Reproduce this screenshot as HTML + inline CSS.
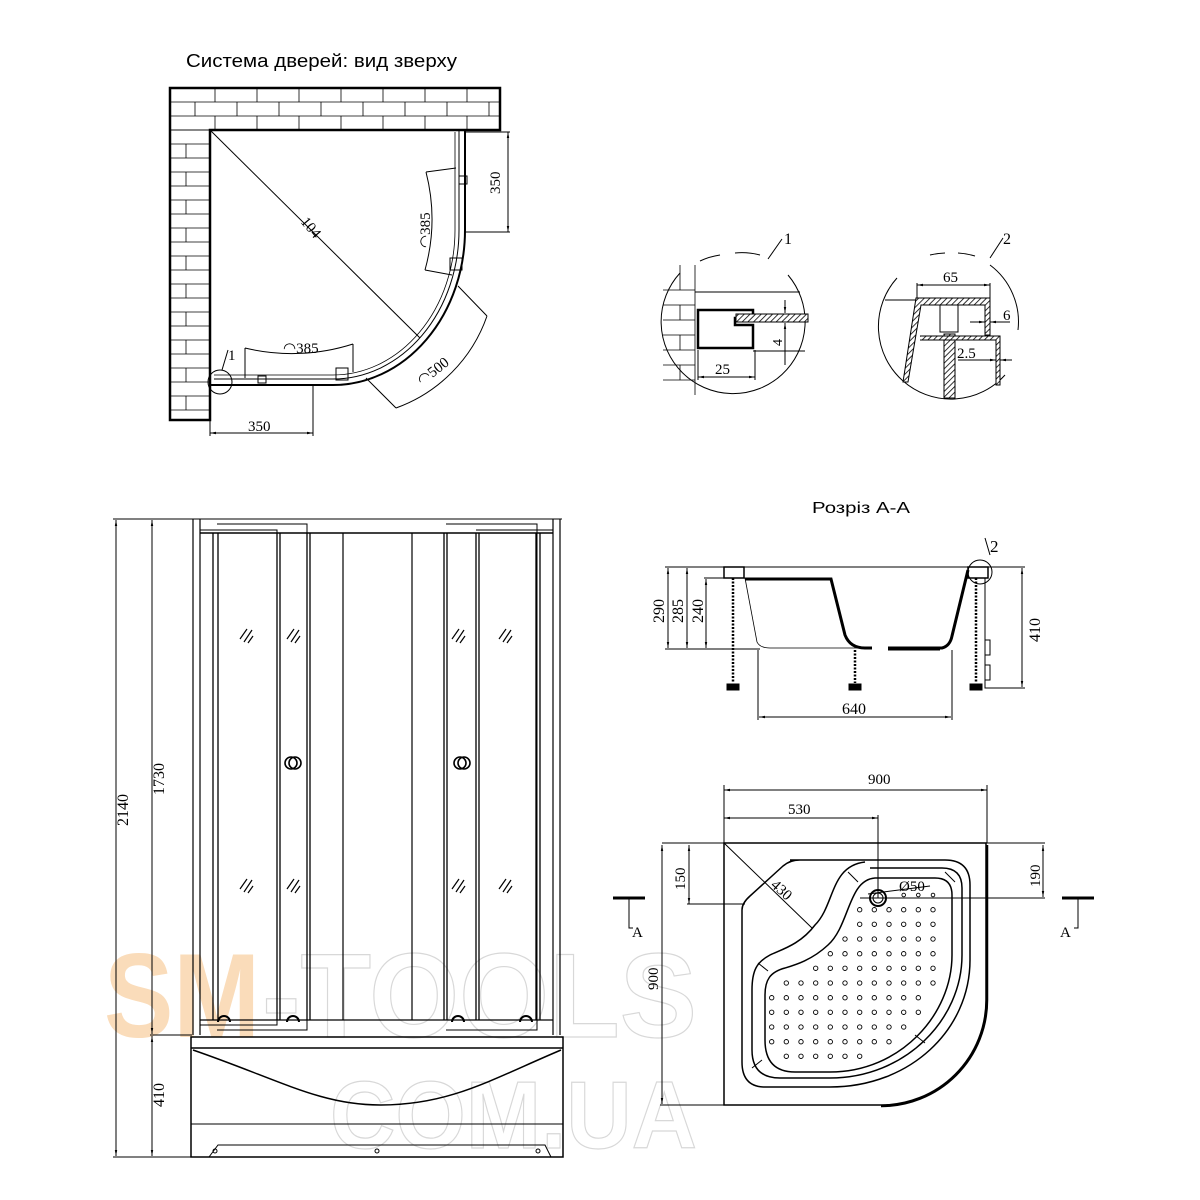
<!DOCTYPE html>
<html><head><meta charset="utf-8"><style>
html,body{margin:0;padding:0;background:#fff;}
svg{display:block}
text{font-family:"Liberation Serif",serif;fill:#000}
.s{font-family:"Liberation Sans",sans-serif}
</style></head><body>
<svg id="d" width="1200" height="1200" viewBox="0 0 1200 1200" xmlns="http://www.w3.org/2000/svg">
<defs>
<pattern id="h" width="4" height="4" patternUnits="userSpaceOnUse" patternTransform="rotate(45)"><rect width="4" height="4" fill="#fff"/><line x1="0" y1="0" x2="0" y2="4" stroke="#000" stroke-width="1.6"/></pattern>
<marker id="a" viewBox="0 0 10 10" refX="10" refY="5" markerWidth="6" markerHeight="6" orient="auto-start-reverse"><path d="M0,3 L10,5 L0,7z" fill="#000"/></marker>
</defs>

<!-- watermark -->
<text x="104" y="1037" font-size="120" font-weight="bold" textLength="156" lengthAdjust="spacingAndGlyphs" style="fill:#fadcba;font-family:'Liberation Sans',sans-serif">SM</text>
<text x="262" y="1037" font-size="120" font-weight="bold" textLength="435" lengthAdjust="spacingAndGlyphs" style="fill:none;stroke:#d8d8d8;stroke-width:1.2;font-family:'Liberation Sans',sans-serif">-TOOLS</text>
<text x="330" y="1148" font-size="96" font-weight="bold" textLength="367" lengthAdjust="spacingAndGlyphs" style="fill:none;stroke:#d8d8d8;stroke-width:1.2;font-family:'Liberation Sans',sans-serif">COM.UA</text>

<text class="s" x="186" y="67" font-size="18" textLength="271" lengthAdjust="spacingAndGlyphs">Система дверей: вид зверху</text>
<text class="s" x="812" y="513" font-size="16" textLength="98" lengthAdjust="spacingAndGlyphs">Розріз А-А</text>

<g fill="none" stroke="#000" stroke-width="1">
<g id="bricks"></g>
<path d="M170,420 V88 H500 V130 H210 V420 Z" stroke-width="2.5"/>
<path d="M465,130 V230 A132,155 0 0 1 333,385 H210" stroke-width="2"/>
<path d="M459,130 V230 A126,149 0 0 1 333,379 H214" stroke-width="1"/>
<path d="M455,132 V230 A122,145 0 0 1 333,375 H214" stroke-width="0.8"/>
<line x1="210" y1="130" x2="420" y2="338"/>
<line x1="465" y1="132" x2="510" y2="132"/><line x1="465" y1="232" x2="510" y2="232"/>
<line x1="508" y1="132" x2="508" y2="232" marker-start="url(#a)" marker-end="url(#a)"/>
<line x1="210" y1="390" x2="210" y2="436"/><line x1="313" y1="385" x2="313" y2="436"/>
<line x1="210" y1="433" x2="313" y2="433" marker-start="url(#a)" marker-end="url(#a)"/>
<path d="M458,286 L487,316 M366,378 L396,408 M487,316 A150,150 0 0 1 396,408"/>
<path d="M426,172 L456,168 M425,270 L452,275 M426,172 A190,190 0 0 1 425,270"/>
<path d="M245,348 L245,378 M353,344 L353,372 M245,348 A200,200 0 0 0 353,344"/>
<rect x="459" y="176" width="8" height="8"/><rect x="450" y="258" width="12" height="12"/><rect x="336" y="368" width="12" height="12"/><rect x="258" y="376" width="8" height="7"/>
<circle cx="220" cy="382" r="12"/><path d="M222,370 L228,350"/>
</g>
<text x="500" y="194" font-size="15" transform="rotate(-90 500 194)">350</text>
<text x="248" y="431" font-size="15">350</text>
<text x="300" y="222" font-size="15" transform="rotate(50 300 222)">104</text>
<text x="283" y="353" font-size="15">◠385</text>
<text x="430" y="248" font-size="15" transform="rotate(-90 430 248)">◠385</text>
<text x="422" y="386" font-size="15" transform="rotate(-38 422 386)">◠500</text>
<text x="228" y="360" font-size="15">1</text>

<!-- DETAIL 1 -->
<g fill="none" stroke="#000" stroke-width="1">
<path d="M680,273 A72,72 0 1 0 788,275" />
<path d="M700,261 A72,72 0 0 1 720,255 M735,253 A72,72 0 0 1 760,255"/>
<path d="M768,259 L782,239"/>
<path d="M695,265 V395 M663,290 H695 M663,305 H695 M663,320 H695 M663,335 H695 M663,350 H695 M663,365 H695 M663,380 H695 M680,265 V290 M680,305 V320 M680,335 V350 M680,365 V380" stroke-width="0.8"/>
<line x1="695" y1="292" x2="800" y2="292"/>
<path d="M698,310 H753 V318 H735 V325 H753 V348 H698 Z" stroke-width="2.5"/>
<rect x="736" y="314" width="72" height="8" fill="url(#h)"/>
<line x1="755" y1="350" x2="755" y2="380"/><line x1="698" y1="350" x2="698" y2="380"/>
<line x1="698" y1="377" x2="755" y2="377" marker-start="url(#a)" marker-end="url(#a)"/>
<line x1="753" y1="351" x2="805" y2="351"/>
<line x1="785" y1="300" x2="785" y2="313" marker-end="url(#a)"/><line x1="785" y1="365" x2="785" y2="323" marker-end="url(#a)"/>
</g>
<text x="784" y="244" font-size="16">1</text>
<text x="715" y="374" font-size="15">25</text>
<text x="782" y="346" font-size="14" transform="rotate(-90 782 346)">4</text>

<!-- DETAIL 2 -->
<g fill="none" stroke="#000" stroke-width="1">
<path d="M897,278 A71,71 0 0 0 1005,375 M1018,330 A71,71 0 0 0 990,265"/>
<path d="M930,255 A71,71 0 0 1 945,253 M958,253 A71,71 0 0 1 975,256"/>
<path d="M990,258 L1003,238"/>
<line x1="917" y1="285" x2="990" y2="285" marker-start="url(#a)" marker-end="url(#a)"/>
<line x1="917" y1="283" x2="917" y2="300"/><line x1="990" y1="283" x2="990" y2="300"/>
<line x1="885" y1="300" x2="917" y2="300"/>
<path d="M916,298 H990 V335 H985 V305 H921 L908,382 H903 Z" fill="url(#h)"/>
<rect x="940" y="305" width="18" height="27"/>
<rect x="944" y="334" width="11" height="64" fill="url(#h)"/>
<path d="M920,336 H1000 V385 H996 V340 H920" fill="url(#h)"/>
<line x1="970" y1="322" x2="985" y2="322" marker-end="url(#a)"/><line x1="1010" y1="322" x2="990" y2="322" marker-end="url(#a)"/>
<line x1="958" y1="360" x2="996" y2="360" marker-end="url(#a)"/><line x1="1012" y1="360" x2="1000" y2="360" marker-end="url(#a)"/>
</g>
<text x="1003" y="244" font-size="16">2</text>
<text x="943" y="282" font-size="15">65</text>
<text x="1003" y="320" font-size="15">6</text>
<text x="957" y="358" font-size="15">2.5</text>

<!-- FRONT VIEW -->
<g fill="none" stroke="#000" stroke-width="1">
<line x1="113" y1="519" x2="562" y2="519"/>
<line x1="113" y1="1157" x2="563" y2="1157"/>
<line x1="150" y1="1035" x2="192" y2="1035"/>
<line x1="116" y1="520" x2="116" y2="1156" marker-start="url(#a)" marker-end="url(#a)"/>
<line x1="152" y1="520" x2="152" y2="1034" marker-start="url(#a)" marker-end="url(#a)"/>
<line x1="152" y1="1036" x2="152" y2="1156" marker-start="url(#a)" marker-end="url(#a)"/>
<path d="M193,519 V1035 M200,519 V1035 M553,519 V1035 M560,519 V1035" stroke-width="1.2"/>
<line x1="200" y1="533" x2="553" y2="533" stroke-width="1.4"/>
<line x1="200" y1="1020" x2="553" y2="1020" stroke-width="1.2"/>
<path d="M200,530 H277 V1025 H200"/>
<path d="M217,524 H307 V1030 H217"/>
<path d="M213,533 V1020 M218,533 V1020 M277,533 V1020 M280,533 V1020 M307,533 V1020 M310,533 V1020" stroke-width="1.3"/>
<path d="M343,533 V1020 M412,533 V1020" stroke-width="1.2"/>
<path d="M446,524 H537 V1030 H446"/>
<path d="M476,530 H553 V1025"/>
<path d="M444,533 V1020 M447,533 V1020 M476,533 V1020 M479,533 V1020 M536,533 V1020 M540,533 V1020" stroke-width="1.3"/>
<rect x="191" y="1037" width="372" height="120" stroke-width="1.5"/>
<line x1="191" y1="1048" x2="563" y2="1048" stroke-width="1.5"/>
<path d="M193,1050 C280,1080 320,1105 380,1105 C450,1105 490,1080 561,1050" stroke-width="1.5"/>
<line x1="191" y1="1124" x2="563" y2="1124"/>
<path d="M209,1157 L218,1145 H545 L551,1157"/>
<circle cx="215" cy="1151" r="2"/><circle cx="377" cy="1151" r="2"/><circle cx="538" cy="1151" r="2"/>
<circle cx="291" cy="763" r="6" stroke-width="1.6"/><circle cx="295" cy="763" r="6" stroke-width="1.6"/>
<circle cx="460" cy="763" r="6" stroke-width="1.6"/><circle cx="464" cy="763" r="6" stroke-width="1.6"/>
<path d="M218,1022 a6,6 0 0 1 12,0 M287,1022 a6,6 0 0 1 12,0 M452,1022 a6,6 0 0 1 12,0 M520,1022 a6,6 0 0 1 12,0" stroke-width="2"/>
</g>
<g id="gl" stroke="#000" stroke-width="1.2"></g>
<text x="128" y="826" font-size="16" transform="rotate(-90 128 826)">2140</text>
<text x="164" y="795" font-size="16" transform="rotate(-90 164 795)">1730</text>
<text x="164" y="1107" font-size="16" transform="rotate(-90 164 1107)">410</text>

<!-- SECTION A-A -->
<g fill="none" stroke="#000" stroke-width="1">
<line x1="665" y1="567" x2="1025" y2="567"/>
<line x1="665" y1="649" x2="760" y2="649"/>
<line x1="704" y1="578" x2="745" y2="578"/>
<line x1="668" y1="568" x2="668" y2="648" marker-start="url(#a)" marker-end="url(#a)"/>
<line x1="687" y1="568" x2="687" y2="648" marker-start="url(#a)" marker-end="url(#a)"/>
<line x1="706" y1="579" x2="706" y2="648" marker-start="url(#a)" marker-end="url(#a)"/>
<rect x="724" y="567" width="20" height="11" stroke-width="1.5"/>
<path d="M745,578 L757,642 Q760,648 770,648 H870" stroke-width="0.8"/>
<path d="M745,579 H831 L845,635 Q850,648 865,648 H872" stroke-width="3"/>
<path d="M888,648 H942 Q950,646 952,636 L968,570" stroke-width="3"/>
<path d="M888,650 H940" stroke-width="1"/>
<rect x="968" y="567" width="20" height="11" stroke-width="1.5"/>
<circle cx="980" cy="572" r="12"/>
<path d="M985,538 L990,555"/>
<path d="M985,578 V688 H1025 M985,640 H990 V655 H985 M985,665 H990 V680 H985"/>
<line x1="1022" y1="568" x2="1022" y2="687" marker-start="url(#a)" marker-end="url(#a)"/>
<line x1="758" y1="650" x2="758" y2="720"/><line x1="952" y1="650" x2="952" y2="720"/>
<line x1="759" y1="717" x2="951" y2="717" marker-start="url(#a)" marker-end="url(#a)"/>
<g stroke-width="2.5" stroke-dasharray="2 1.5"><line x1="733" y1="578" x2="733" y2="683"/><line x1="976" y1="578" x2="976" y2="683"/><line x1="855" y1="650" x2="855" y2="683"/></g>
<path d="M727,690 V684 H739 V690 Z M849,690 V684 H861 V690 Z M970,690 V684 H982 V690 Z" fill="#000"/>
</g>
<text x="990" y="552" font-size="17">2</text>
<text x="664" y="623" font-size="16" transform="rotate(-90 664 623)">290</text>
<text x="683" y="623" font-size="16" transform="rotate(-90 683 623)">285</text>
<text x="703" y="623" font-size="16" transform="rotate(-90 703 623)">240</text>
<text x="1040" y="642" font-size="16" transform="rotate(-90 1040 642)">410</text>
<text x="842" y="714" font-size="16">640</text>

<!-- TRAY TOP -->
<g fill="none" stroke="#000" stroke-width="1">
<line x1="724" y1="790" x2="987" y2="790" marker-start="url(#a)" marker-end="url(#a)"/>
<line x1="724" y1="818" x2="878" y2="818" marker-start="url(#a)" marker-end="url(#a)"/>
<line x1="724" y1="785" x2="724" y2="843"/><line x1="987" y1="785" x2="987" y2="843"/>
<line x1="878" y1="815" x2="878" y2="898"/>
<line x1="662" y1="843" x2="1045" y2="843"/>
<line x1="662" y1="845" x2="662" y2="1104" marker-start="url(#a)" marker-end="url(#a)"/>
<line x1="660" y1="1105" x2="724" y2="1105"/>
<line x1="689" y1="845" x2="689" y2="904" marker-start="url(#a)" marker-end="url(#a)"/>
<line x1="687" y1="904" x2="745" y2="904"/>
<line x1="1043" y1="845" x2="1043" y2="897" marker-start="url(#a)" marker-end="url(#a)"/>
<line x1="860" y1="898" x2="1045" y2="898"/>
<line x1="724" y1="843" x2="812" y2="928"/>
<line x1="868" y1="894" x2="930" y2="886"/>
<path d="M724,843 H986 V1000 A105,105 0 0 1 881,1105 H724 Z" stroke-width="1.5"/>
<path d="M987,845 V1000 A106,106 0 0 1 881,1106" stroke-width="2.5"/>
<path d="M790,860 H945 Q970,860 970,885 V960 C970,1030 910,1087 830,1087 H765 Q742,1087 742,1062 V910 Q742,903 750,896 L783,866 Q790,860 800,860 Z" stroke-width="1.5"/>
<path d="M865,862 C830,866 835,905 815,925 C800,945 780,950 770,955 C757,962 752,970 752,990 V1050 Q752,1078 780,1078 H830 C905,1078 962,1020 962,955 V888 Q962,868 942,868 H870" stroke-width="1.5"/>
<path d="M875,878 C848,880 850,925 828,945 C812,960 795,965 785,968 C770,972 765,980 765,995 V1040 Q765,1072 795,1072 H830 C900,1072 952,1015 952,955 V895 Q952,878 935,878 Z" stroke-width="1.5"/>
<path d="M848,872 L858,882 M945,872 L955,882 M758,963 L768,971 M752,1068 L762,1060 M915,1035 L925,1043"/>
<circle cx="878" cy="898" r="8" stroke-width="2"/><circle cx="878" cy="898" r="5"/>
</g>
<g id="dots" fill="none" stroke="#000" stroke-width="0.9"></g>
<text x="868" y="784" font-size="15">900</text>
<text x="788" y="814" font-size="15">530</text>
<text x="685" y="890" font-size="15" transform="rotate(-90 685 890)">150</text>
<text x="1040" y="887" font-size="15" transform="rotate(-90 1040 887)">190</text>
<text x="658" y="990" font-size="15" transform="rotate(-90 658 990)">900</text>
<text x="770" y="886" font-size="15" transform="rotate(42 770 886)">430</text>
<text x="899" y="891" font-size="15">Ø50</text>
<path d="M613,898 H645" stroke="#000" stroke-width="3"/><path d="M629,898 V928 H633" fill="none" stroke="#000"/>
<text x="632" y="937" font-size="15">A</text>
<path d="M1062,898 H1094" stroke="#000" stroke-width="3"/><path d="M1078,898 V928 H1074" fill="none" stroke="#000"/>
<text x="1060" y="937" font-size="15">A</text>
</svg>
<script>
var NS="http://www.w3.org/2000/svg";
function el(p,t,a){var e=document.createElementNS(NS,t);for(var k in a)e.setAttribute(k,a[k]);p.appendChild(e);}
var b=document.getElementById("bricks");
var ys=[88,102,116,130];
for(var r=0;r<3;r++){el(b,"line",{x1:170,y1:ys[r+1],x2:500,y2:ys[r+1],stroke:"#000","stroke-width":0.8});
 for(var x=(r%2?195:215);x<500;x+=42)el(b,"line",{x1:x,y1:ys[r],x2:x,y2:ys[r+1],stroke:"#000","stroke-width":0.8});}
for(var y=130,i=0;y<420;y+=14,i++){el(b,"line",{x1:170,y1:y,x2:210,y2:y,stroke:"#000","stroke-width":0.8});
 if(i%2)el(b,"line",{x1:186,y1:y,x2:186,y2:Math.min(y+14,420),stroke:"#000","stroke-width":0.8});}
var rows=[[9,11],[6,11],[6,11],[5,11],[4,11],[3,11],[1,11],[0,10],[0,10],[0,9],[0,8],[1,6]];
var d=document.getElementById("dots");
rows.forEach(function(rg,r){for(var k=rg[0];k<=rg[1];k++)el(d,"circle",{cx:(600+(515+44*k)/3).toFixed(1),cy:(770+(375+44*r)/3).toFixed(1),r:r==0?1.8:2.2});});
var g=document.getElementById("gl");
[[247,635],[294,635],[459,635],[506,635],[247,885],[294,885],[459,885],[506,885]].forEach(function(p){
 el(g,"line",{x1:p[0]-7,y1:p[1]+4,x2:p[0],y2:p[1]-6});el(g,"line",{x1:p[0]-3,y1:p[1]+7,x2:p[0]+5,y2:p[1]-5});el(g,"line",{x1:p[0]+1,y1:p[1]+8,x2:p[0]+6,y2:p[1]+1});});
</script>
</body></html>
